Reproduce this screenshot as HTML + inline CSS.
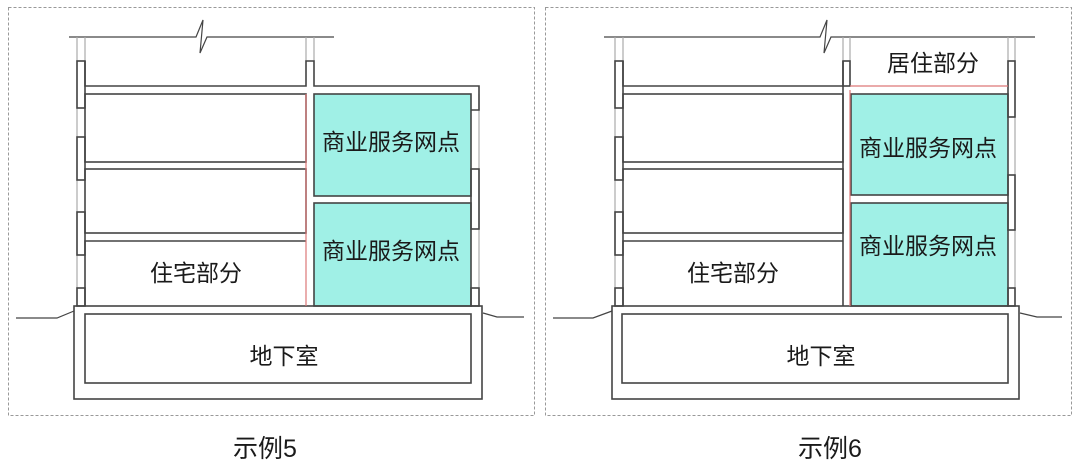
<!DOCTYPE html>
<html><head><meta charset="utf-8"><style>
html,body{margin:0;padding:0;background:#fff;}
svg{display:block}
text{font-family:"Liberation Sans","Noto Sans CJK SC",sans-serif;fill:#1a1a1a;}
</style></head><body>
<svg width="1080" height="469" viewBox="0 0 1080 469" xmlns="http://www.w3.org/2000/svg">
<g fill="none" stroke="#999" stroke-width="1" stroke-dasharray="3,2">
<rect x="8.5" y="7.5" width="526" height="408"/>
<rect x="545.5" y="7.5" width="526" height="408"/>
</g>

<!-- LEFT -->
<g stroke-width="1.6">
<rect x="314" y="94" width="157" height="102" fill="#a0f0e6" stroke="#444"/>
<rect x="314" y="203" width="157" height="103" fill="#a0f0e6" stroke="#444"/>
<polyline points="69,37 196,37 203,20 200,53 207,37 334,37" fill="none" stroke="#444" stroke-width="1.2"/>
<line x1="77" y1="37" x2="77" y2="306" stroke="#aaa" stroke-width="1.2"/>
<line x1="85" y1="37" x2="85" y2="61" stroke="#aaa" stroke-width="1.2"/>
<line x1="306" y1="37" x2="306" y2="61" stroke="#aaa" stroke-width="1.2"/>
<line x1="314" y1="37" x2="314" y2="61" stroke="#aaa" stroke-width="1.2"/>
<line x1="479" y1="94" x2="479" y2="306" stroke="#aaa" stroke-width="1.2"/>
<g fill="none" stroke="#444">
<polyline points="85,61 85,86 306,86 306,61 314,61 314,86 479,86 479,110 471,110"/>
<rect x="85" y="94" width="221" height="68"/>
<rect x="85" y="169" width="221" height="64"/>
<polyline points="85,306 85,241 306,241"/>
<rect x="77" y="61" width="8" height="47"/>
<rect x="77" y="137" width="8" height="43"/>
<rect x="77" y="212" width="8" height="43"/>
<rect x="77" y="288" width="8" height="18"/>
<rect x="471" y="169" width="8" height="60"/>
<rect x="471" y="288" width="8" height="18"/>
<rect x="74" y="306" width="408" height="93"/>
<rect x="85" y="314" width="386" height="69"/>
</g>
<line x1="306" y1="94" x2="306" y2="306" stroke="#d77" stroke-width="1.2"/>
<polyline points="16,318 57,318 74,311" fill="none" stroke="#444" stroke-width="1.2"/>
<polyline points="483,313 497,317 524,317" fill="none" stroke="#444" stroke-width="1.2"/>
</g>
<g font-size="23" text-anchor="middle">
<text x="391" y="150">商业服务网点</text>
<text x="391" y="259">商业服务网点</text>
<text x="196" y="281">住宅部分</text>
<text x="284" y="364">地下室</text>
</g>

<!-- RIGHT -->
<g stroke-width="1.6">
<rect x="851" y="94" width="157" height="101" fill="#a0f0e6" stroke="#444"/>
<rect x="851" y="203" width="157" height="103" fill="#a0f0e6" stroke="#444"/>
<polyline points="604,37 820,37 827,20 824,53 831,37 1035,37" fill="none" stroke="#444" stroke-width="1.2"/>
<line x1="615" y1="37" x2="615" y2="306" stroke="#aaa" stroke-width="1.2"/>
<line x1="623" y1="37" x2="623" y2="61" stroke="#aaa" stroke-width="1.2"/>
<line x1="843" y1="37" x2="843" y2="61" stroke="#aaa" stroke-width="1.2"/>
<line x1="850" y1="37" x2="850" y2="86" stroke="#aaa" stroke-width="1.2"/>
<line x1="1008" y1="37" x2="1008" y2="86" stroke="#aaa" stroke-width="1.2"/>
<line x1="1015" y1="37" x2="1015" y2="306" stroke="#aaa" stroke-width="1.2"/>
<g fill="none" stroke="#444">
<polyline points="623,61 623,86 843,86 843,61"/>
<rect x="623" y="94" width="220" height="68"/>
<rect x="623" y="169" width="220" height="64"/>
<polyline points="623,306 623,241 843,241"/>
<line x1="843" y1="86" x2="843" y2="306"/>
<rect x="615" y="61" width="8" height="47"/>
<rect x="615" y="137" width="8" height="43"/>
<rect x="615" y="212" width="8" height="43"/>
<rect x="615" y="288" width="8" height="18"/>
<rect x="843" y="61" width="7" height="25"/>
<rect x="1008" y="61" width="7" height="56"/>
<rect x="1008" y="175" width="7" height="55"/>
<rect x="1008" y="288" width="7" height="18"/>
<rect x="612" y="306" width="407" height="93"/>
<rect x="622" y="314" width="386" height="69"/>
</g>
<line x1="850" y1="86" x2="1008" y2="86" stroke="#d77" stroke-width="1.2"/>
<line x1="850" y1="90" x2="850" y2="306" stroke="#d77" stroke-width="1.2"/>
<polyline points="553,318 593,318 612,311" fill="none" stroke="#444" stroke-width="1.2"/>
<polyline points="1020,313 1037,317 1062,317" fill="none" stroke="#444" stroke-width="1.2"/>
</g>
<g font-size="23" text-anchor="middle">
<text x="933" y="71">居住部分</text>
<text x="928" y="156">商业服务网点</text>
<text x="928" y="254">商业服务网点</text>
<text x="733" y="281">住宅部分</text>
<text x="821" y="364">地下室</text>
</g>

<g font-size="25" text-anchor="middle">
<text x="265" y="457">示例5</text>
<text x="830" y="457">示例6</text>
</g>
</svg>
</body></html>
